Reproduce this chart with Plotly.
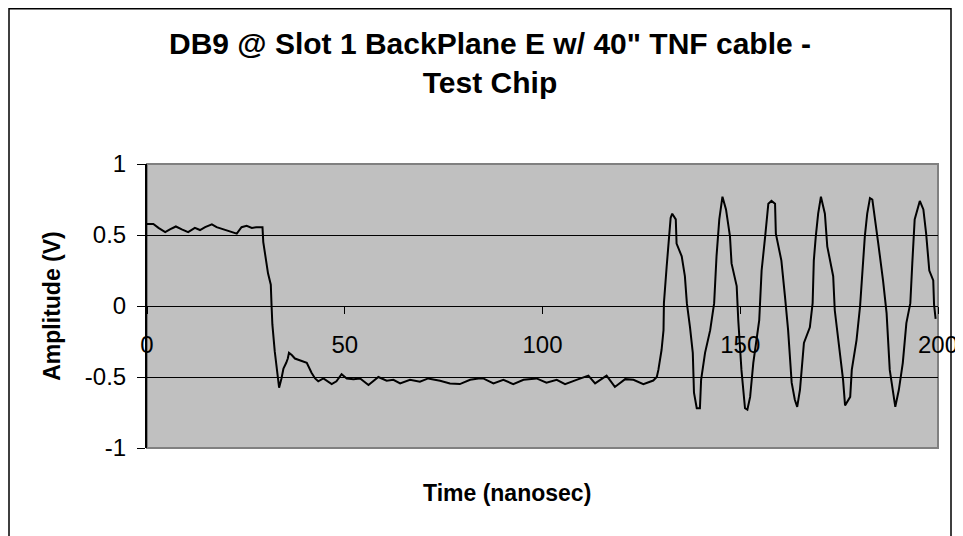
import plotly.graph_objects as go

# Waveform samples (time in ns, amplitude in V)
time_ns = [
    0, 1.6, 2.9, 4.6, 5.8, 7.3, 8.8, 10.4, 12.1, 13.4, 14.7, 16.4, 17.6, 19.3, 21.0,
    22.7, 23.9, 25.2, 26.5, 27.7, 29.2, 29.4, 30.6, 31.3, 31.5, 31.7, 32.3, 32.9,
    33.4, 34.0, 34.5, 35.2, 35.6, 35.9, 36.6, 37.4, 39.1, 40.4, 41.6, 42.5, 43.3,
    44.6, 46.7, 47.9, 49.2, 50.5, 52.2, 53.9, 56.0, 58.5, 60.6, 62.3, 64.0, 66.5,
    69.0, 71.1, 74.1, 76.6, 79.1, 81.7, 83.8, 85.0, 87.6, 90.1, 92.6, 95.2, 98.5,
    101.0, 103.6, 105.7, 108.6, 111.6, 113.3, 116.2, 118.3, 120.9, 123.0, 125.5,
    128.0, 128.9, 129.3, 130.1, 130.6, 130.7, 131.4, 132.1, 132.4, 132.8, 133.7,
    133.9, 135.2, 136.0, 136.5, 137.3, 138.0, 138.3, 139.0, 139.8, 140.1, 141.1,
    142.4, 143.4, 144.0, 144.7, 145.5, 146.4, 147.4, 147.8, 149.1, 149.5, 150.3,
    151.2, 151.8, 152.5, 153.3, 154.8, 155.4, 156.3, 157.1, 157.9, 158.8, 159.0,
    160.4, 161.3, 162.1, 163.0, 163.8, 164.4, 165.1, 166.1, 167.6, 168.3, 168.6,
    169.1, 169.7, 170.4, 171.4, 172.0, 173.5, 173.9, 175.2, 176.0, 176.5, 177.8,
    178.2, 179.4, 180.3, 181.5, 182.1, 182.8, 183.4, 184.0, 184.9, 186.1, 187.0,
    187.8, 188.7, 189.2, 190.1, 191.1, 192.0, 193.0, 193.5, 194.1, 195.4, 196.3,
    197.0, 197.8, 198.8, 199.0, 199.4,
]
amplitude_v = [
    0.577, 0.577, 0.55, 0.52, 0.54, 0.56, 0.54, 0.52, 0.55, 0.535, 0.555, 0.575,
    0.555, 0.54, 0.53, 0.51, 0.555, 0.565, 0.55, 0.555, 0.555, 0.45, 0.23, 0.15,
    0.0, -0.13, -0.32, -0.44, -0.575, -0.51, -0.44, -0.40, -0.37, -0.33, -0.345,
    -0.37, -0.39, -0.40, -0.47, -0.51, -0.53, -0.51, -0.55, -0.53, -0.48, -0.51,
    -0.515, -0.51, -0.556, -0.50, -0.526, -0.52, -0.545, -0.52, -0.533, -0.51,
    -0.526, -0.545, -0.55, -0.52, -0.51, -0.51, -0.545, -0.52, -0.55, -0.52,
    -0.51, -0.54, -0.52, -0.55, -0.52, -0.49, -0.545, -0.49, -0.57, -0.515,
    -0.52, -0.55, -0.525, -0.50, -0.45, -0.31, -0.17, 0.02, 0.28, 0.49, 0.62,
    0.65, 0.61, 0.44, 0.35, 0.21, 0.02, -0.15, -0.33, -0.61, -0.72, -0.72, -0.52,
    -0.33, -0.17, 0.02, 0.35, 0.61, 0.77, 0.68, 0.49, 0.30, 0.14, -0.10, -0.45,
    -0.72, -0.73, -0.64, -0.40, -0.10, 0.25, 0.49, 0.72, 0.74, 0.72, 0.51, 0.32,
    0.07, -0.17, -0.54, -0.66, -0.71, -0.59, -0.26, -0.15, 0.02, 0.32, 0.49, 0.65,
    0.77, 0.65, 0.42, 0.21, -0.03, -0.36, -0.52, -0.70, -0.64, -0.45, -0.24, 0.0,
    0.49, 0.65, 0.76, 0.75, 0.61, 0.44, 0.18, -0.05, -0.45, -0.64, -0.71, -0.59,
    -0.40, -0.12, 0.02, 0.30, 0.61, 0.74, 0.68, 0.51, 0.25, 0.18, 0.01, -0.09,
]

x_ticks = [0, 50, 100, 150, 200]
y_ticks = [-1, -0.5, 0, 0.5, 1]
y_tick_text = ["-1", "-0.5", "0", "0.5", "1"]

chart_title = "DB9 @ Slot 1 BackPlane E w/ 40\" TNF cable -<br>Test Chip"
x_title = "Time (nanosec)"
y_title = "Amplitude (V)"

FONT = "Liberation Sans, Arial, sans-serif"

# The page body has an 8px margin, so the figure is drawn 8px in from the window edge.
OFF = 8
W, H = 963 - OFF, 536 - OFF
L, T = 147 - OFF, 164 - OFF          # plot area left/top (page px 147, 164)
R = W - (938 - OFF)                  # plot area right at page px 938
B = H - (448 - OFF)                  # plot area bottom at page px 448
pw, ph = W - L - R, H - T - B


def px_x(px):
    """page pixel x -> paper coordinate"""
    return (px - OFF - L) / pw


def px_y(py):
    """page pixel y -> paper coordinate"""
    return (H - B - (py - OFF)) / ph


fig = go.Figure()
fig.add_trace(go.Scatter(
    x=time_ns, y=amplitude_v, mode="lines",
    line=dict(color="black", width=2), showlegend=False, hoverinfo="x+y",
))

fig.update_layout(
    width=W, height=H,
    margin=dict(l=L, r=R, t=T, b=B, autoexpand=False),
    paper_bgcolor="white",
    plot_bgcolor="#C0C0C0",
    font=dict(family=FONT, color="black", size=24),
    title=dict(
        text=chart_title, x=(490 - OFF) / W, xanchor="center", xref="container",
        yref="container", y=1 - 46 / H, yanchor="top",
        font=dict(family=FONT, size=30, color="black", weight="bold"),
    ),
    xaxis=dict(
        range=[0, 200], tickvals=x_ticks, ticktext=[str(v) for v in x_ticks],
        anchor="free", position=0.5, showline=True, linecolor="black", linewidth=1,
        ticks="outside", ticklen=7, tickcolor="black", tickwidth=1,
        showgrid=False, zeroline=False, ticklabelstandoff=10,
        tickfont=dict(size=24, family=FONT),
    ),
    yaxis=dict(
        range=[-1, 1], tickvals=y_ticks, ticktext=y_tick_text,
        showline=True, linecolor="black", linewidth=2,
        ticks="outside", ticklen=8, tickcolor="black", tickwidth=1,
        showgrid=True, gridcolor="black", gridwidth=1, zeroline=False,
        tickfont=dict(size=24, family=FONT), ticklabelstandoff=6,
        title=dict(text=y_title, standoff=18,
                   font=dict(size=23, family=FONT, weight="bold")),
    ),
    shapes=[
        # gray plot-area frame (top, right, bottom)
        dict(type="rect", xref="paper", yref="paper", x0=0, x1=1, y0=0, y1=1,
             line=dict(color="#808080", width=2), layer="below"),
        # outer chart border
        dict(type="rect", xref="paper", yref="paper",
             x0=px_x(9), x1=px_x(951), y0=px_y(560), y1=px_y(8.8),
             line=dict(color="black", width=1.5), layer="above"),
    ],
    annotations=[
        dict(text=x_title, xref="paper", yref="paper", x=px_x(507), y=px_y(493),
             xanchor="center", yanchor="middle", showarrow=False,
             font=dict(size=23, family=FONT, weight="bold")),
    ],
)

fig.write_html("out.html")
